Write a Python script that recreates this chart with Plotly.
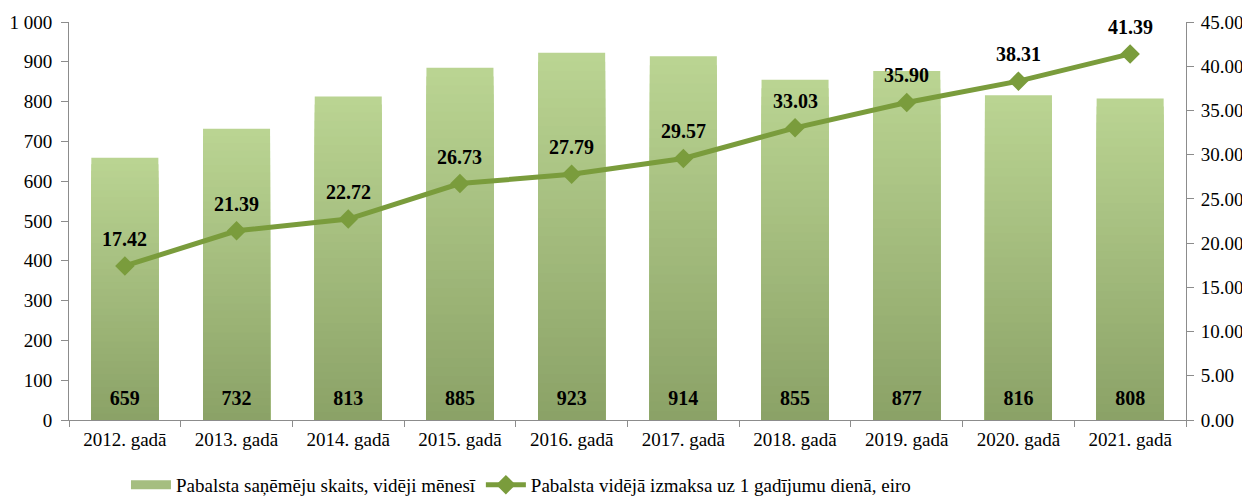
import plotly.graph_objects as go

categories = ["2012. gadā", "2013. gadā", "2014. gadā", "2015. gadā", "2016. gadā",
              "2017. gadā", "2018. gadā", "2019. gadā", "2020. gadā", "2021. gadā"]
recipients = [659, 732, 813, 885, 923, 914, 855, 877, 816, 808]
avg_payment = [17.42, 21.39, 22.72, 26.73, 27.79, 29.57, 33.03, 35.90, 38.31, 41.39]

bar_name = "Pabalsta saņēmēju skaits, vidēji mēnesī"
line_name = "Pabalsta vidējā izmaksa uz 1 gadījumu dienā, eiro"

FONT = "Liberation Serif"
top_rgb = (186, 212, 146)
bot_rgb = (138, 161, 102)
line_color = "#7a9c3c"

fig = go.Figure()

# gradient bars: overlay of shrinking bars, light at top -> dark at bottom
N = 40
for k in range(N, 0, -1):
    f = k / N
    c = tuple(round(bot_rgb[i] + (top_rgb[i] - bot_rgb[i]) * f) for i in range(3))
    fig.add_trace(go.Bar(
        x=categories, y=[v * f for v in recipients],
        marker=dict(color="rgb(%d,%d,%d)" % c, line=dict(width=0)),
        width=0.6, name=bar_name, showlegend=False,
        hoverinfo="skip" if k != N else None,
    ))

# legend entry for the bars (wide swatch like the original)
fig.add_trace(go.Scatter(
    x=[None], y=[None], mode="lines", name=bar_name,
    line=dict(color="rgb(165,190,128)", width=9), legendrank=1,
))

# bar value labels near the bottom of the bars
label_y = [50] * len(categories)
fig.add_trace(go.Scatter(
    x=categories, y=label_y, mode="text", text=[str(v) for v in recipients],
    textfont=dict(family=FONT, size=20, color="black", weight="bold"),
    showlegend=False, hoverinfo="skip",
))

fig.add_trace(go.Scatter(
    x=categories, y=avg_payment, yaxis="y2", mode="lines+markers",
    name=line_name,
    line=dict(color=line_color, width=5),
    marker=dict(symbol="diamond", size=15, color=line_color),
    legendrank=2,
))

for c, v in zip(categories, avg_payment):
    fig.add_annotation(x=c, y=v, yref="y2", text="<b>%.2f</b>" % v, showarrow=False,
                       yshift=27, font=dict(family=FONT, size=20, color="black"))

axis_line = "#8c8c8c"
tf = dict(family=FONT, size=19, color="black")
fig.update_layout(
    width=1242, height=489,
    margin=dict(l=61, r=64, t=14, b=77, autoexpand=False),
    paper_bgcolor="white", plot_bgcolor="white",
    barmode="overlay", bargap=0.4,
    separators=". ",
    font=dict(family=FONT, size=19, color="black"),
    xaxis=dict(type="category", range=[-0.5, len(categories) - 0.5],
               showline=True, linecolor=axis_line, linewidth=1,
               ticks="outside", ticklen=6, tickcolor=axis_line, tickson="boundaries",
               showgrid=False, tickfont=tf, automargin=False, ticklabelstandoff=2),
    yaxis=dict(range=[0, 1000], dtick=100, tickformat=",", showline=True,
               linecolor=axis_line, ticks="outside", ticklen=7, tickcolor=axis_line,
               showgrid=False, zeroline=False, tickfont=tf, automargin=False,
               ticklabelstandoff=5),
    yaxis2=dict(range=[0, 45], dtick=5, tickformat=".2f", overlaying="y", side="right",
                showline=True, linecolor=axis_line, ticks="outside", ticklen=7,
                tickcolor=axis_line, showgrid=False, zeroline=False, tickfont=tf,
                automargin=False, ticklabelstandoff=3),
    legend=dict(orientation="h", x=0.051, xanchor="left", yref="container", y=0.025,
                yanchor="middle", font=tf, traceorder="normal", itemwidth=40),
)

fig.write_html("out.html")
